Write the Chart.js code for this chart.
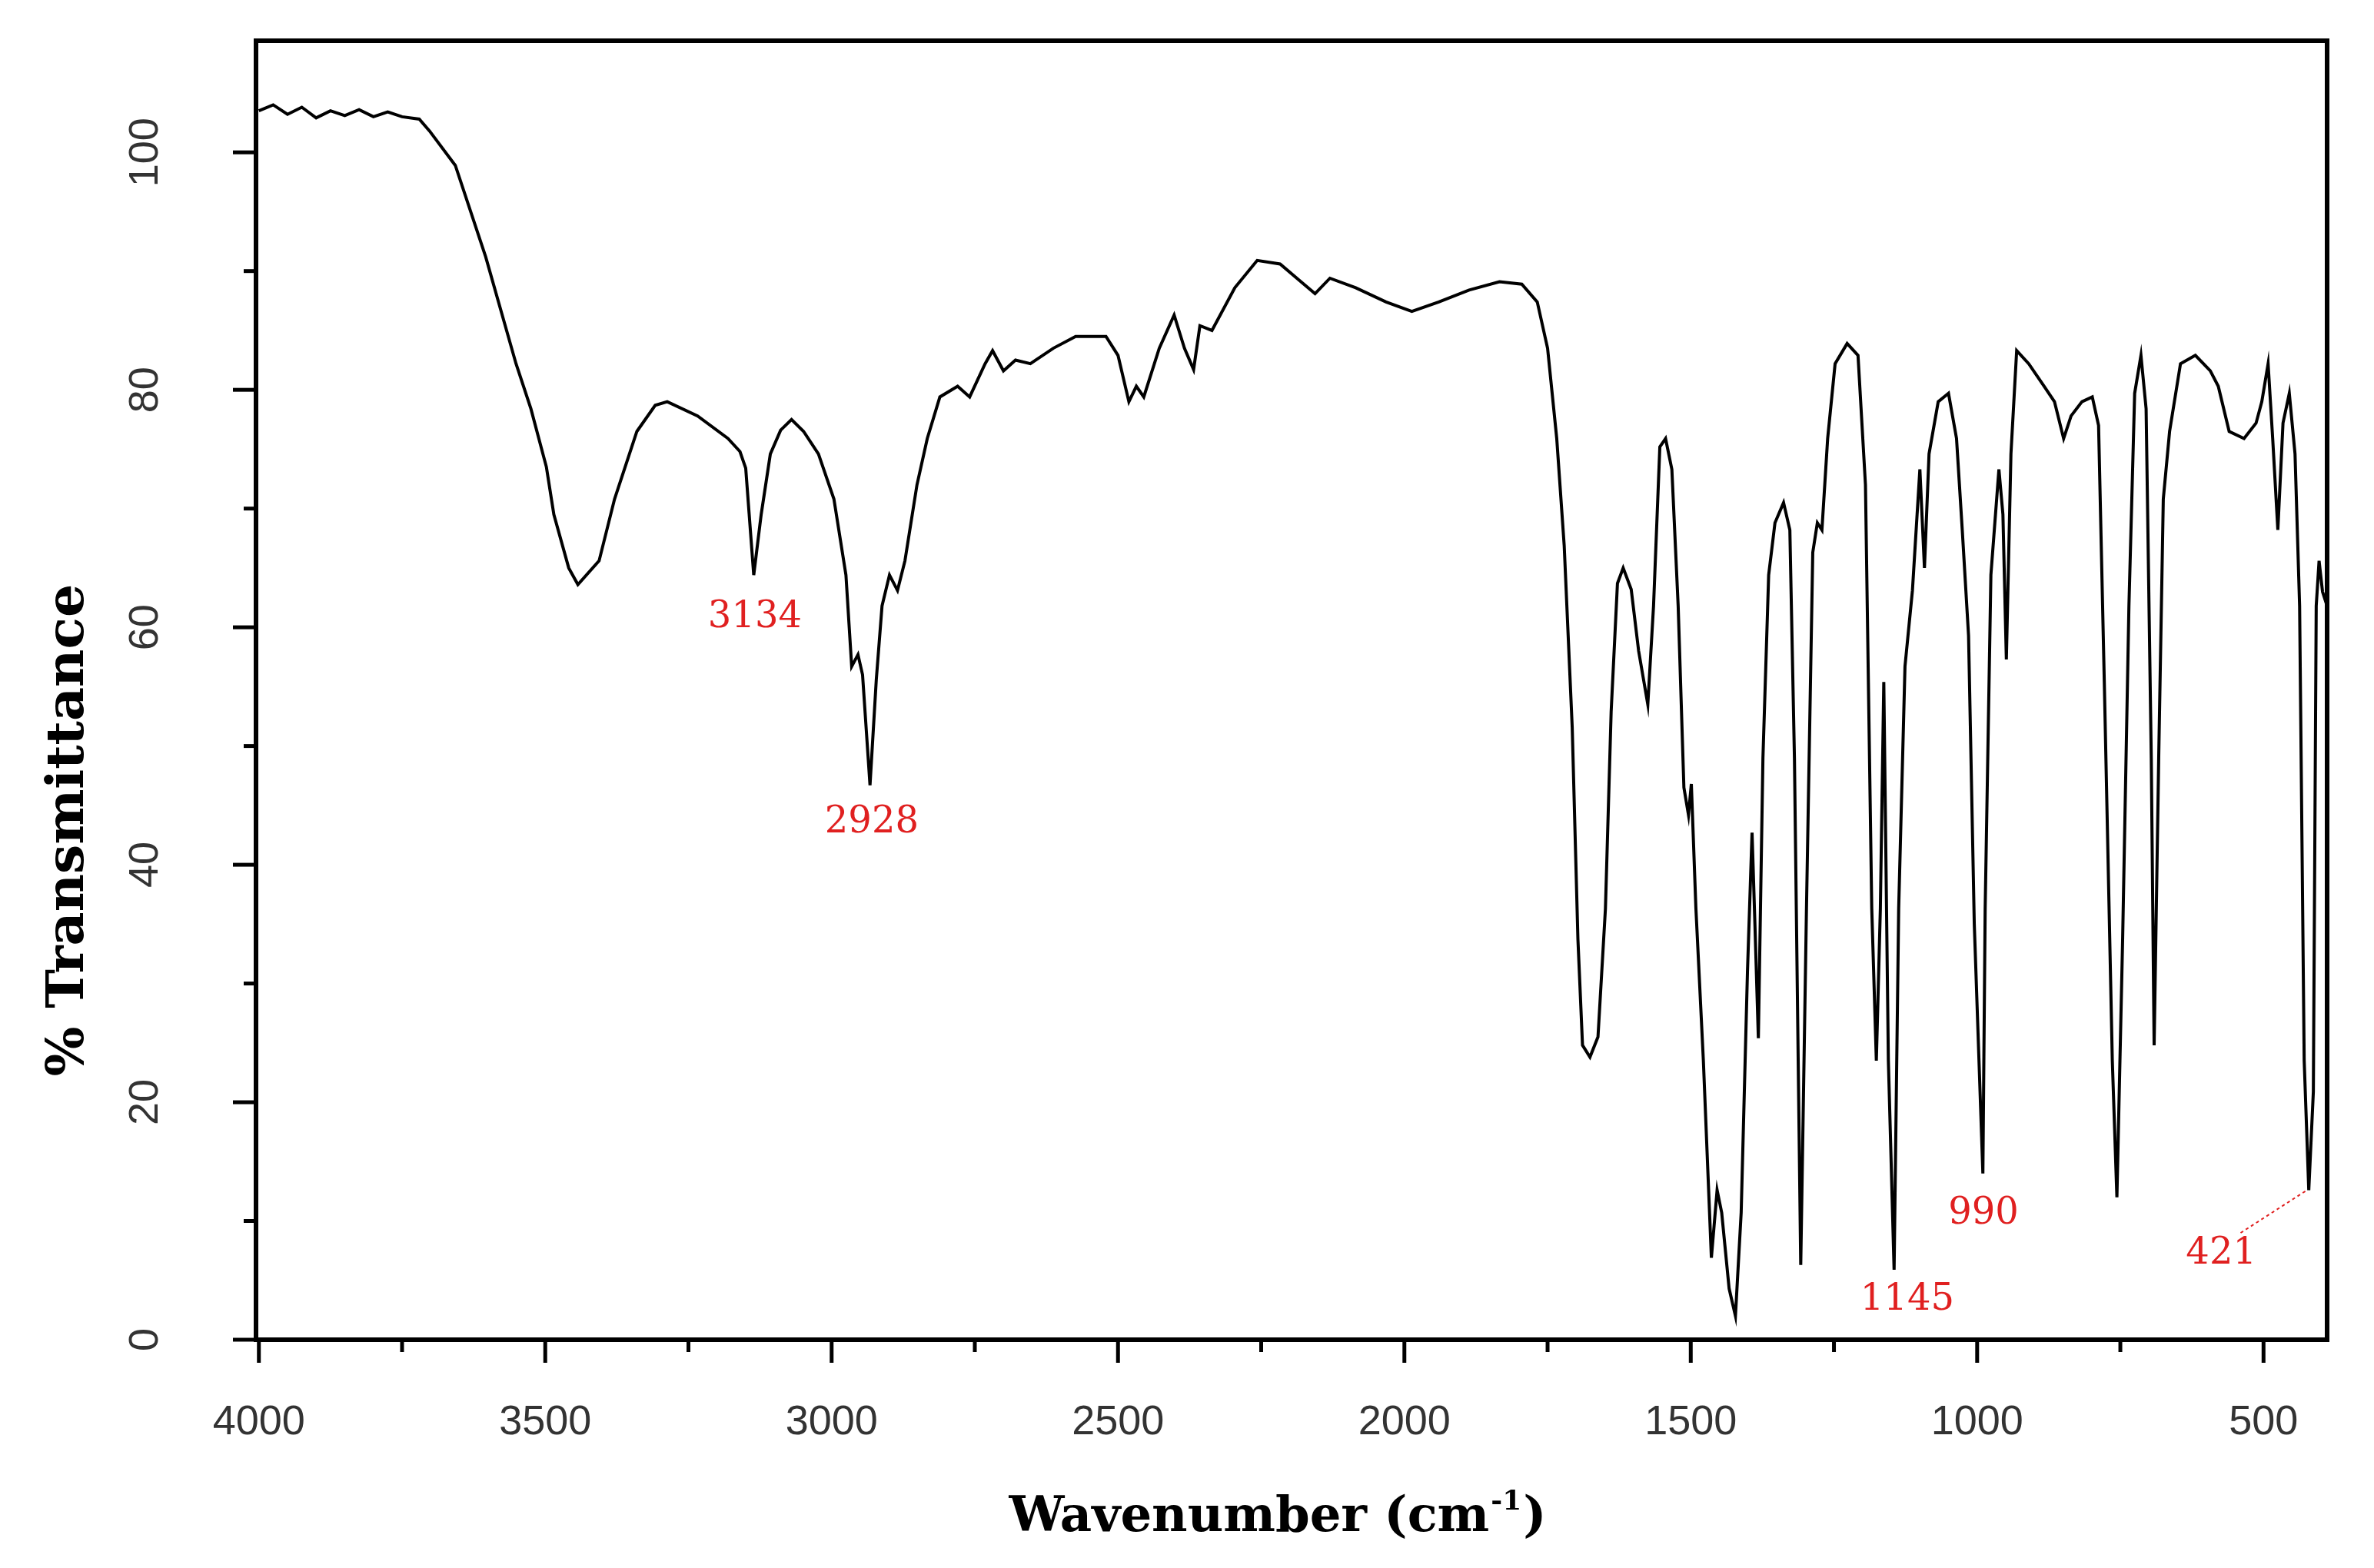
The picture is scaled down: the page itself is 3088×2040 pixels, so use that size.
<!DOCTYPE html>
<html><head><meta charset="utf-8">
<script src="https://cdn.jsdelivr.net/npm/chart.js@4/dist/chart.umd.min.js"></script>
<style>html,body{margin:0;padding:0;background:#fff}#w{width:3088px;height:2040px}</style>
</head><body><div id="w"><canvas id="c"></canvas></div>
<script>
const wavenumbers = [4000,3975,3950,3925,3900,3875,3850,3825,3800,3775,3750,3720,3702,3657,3604,3551,3525,3498,3485,3459,3443,3406,3379,3340,3308,3287,3234,3181,3160,3150,3136,3123,3107,3089,3070,3049,3023,2996,2975,2965,2954,2946,2933,2922,2912,2899,2885,2872,2851,2833,2811,2780,2759,2732,2719,2700,2679,2653,2613,2574,2521,2500,2481,2468,2455,2428,2402,2384,2368,2357,2336,2296,2257,2217,2183,2156,2130,2085,2032,1987,1940,1887,1834,1795,1768,1750,1734,1721,1707,1697,1689,1676,1662,1649,1639,1628,1618,1604,1591,1575,1565,1554,1544,1533,1522,1512,1504,1499,1491,1478,1464,1454,1446,1433,1422,1412,1401,1393,1388,1382,1374,1364,1353,1338,1327,1319,1308,1298,1287,1279,1271,1261,1248,1227,1208,1195,1184,1176,1169,1163,1155,1145,1137,1126,1113,1100,1092,1084,1068,1050,1036,1026,1015,1005,990,986,976,962,955,949,941,931,910,883,865,849,836,817,799,788,778,764,756,746,735,725,714,705,696,691,683,675,664,645,619,593,579,560,534,513,503,492,484,475,466,455,445,437,429,421,413,408,403,397,389];
const transmittance = [103.5,104,103.2,103.8,102.9,103.5,103.1,103.6,103,103.4,103,102.8,101.8,98.9,91.2,82.2,78.4,73.5,69.5,65,63.6,65.6,70.8,76.5,78.7,79,77.8,75.9,74.8,73.4,64.4,69.5,74.6,76.6,77.5,76.5,74.6,70.8,64.4,56.7,57.7,56,46.7,55.6,61.8,64.4,63.1,65.6,72,75.9,79.4,80.3,79.4,82.2,83.3,81.6,82.5,82.2,83.5,84.5,84.5,82.9,79,80.3,79.4,83.5,86.3,83.5,81.7,85.4,85,88.6,90.9,90.6,89.2,88.1,89.4,88.6,87.4,86.6,87.4,88.4,89.1,88.9,87.4,83.5,75.9,66.9,51.6,33.7,24.8,23.8,25.5,36.3,52.9,63.7,65,63.2,58,53.5,61.8,75.2,75.9,73.3,61.8,46.5,44.2,46.8,36.3,23.5,6.9,12.6,10.7,4.3,2,10.7,31,42.7,35,25.4,49,64.4,68.8,70.5,68.2,49,6.3,36.3,66.3,68.8,68.2,75.9,82.2,83.9,82.9,72,36.3,23.5,36.3,55.4,23.5,5.9,36.3,56.7,63.1,73.3,65,74.6,79,79.7,75.9,68.2,59.3,35,14,36.3,64.4,73.3,69.5,57.3,74.6,83.3,82.2,80.3,79,75.9,77.8,79,79.4,77,55.4,23.5,12,33.7,61.8,79.7,82.9,78.4,49,24.8,49,70.8,76.5,82.2,82.9,81.6,80.3,76.5,75.9,77.2,79,82.2,75.9,68.2,77.2,79.7,74.6,61.8,23.5,12.6,20.9,61.8,65.6,63,61.8];
const xTickLabels = [4000,3500,3000,2500,2000,1500,1000,500];
const xMinorTicks = [3750,3250,2750,2250,1750,1250,750];
const yTickLabels = [0,20,40,60,80,100];
const yMinorTicks = [10,30,50,70,90];
const peakLabels = ['3134','2928','1145','990','421'];
const peakLabelX = [3134,2930,1122,989,574];
const peakLabelY = [60.8,43.5,3.3,10.6,7.2];

const deco = {
  id:'deco',
  afterDraw(ch){
    const c=ch.ctx, a=ch.chartArea, xs=ch.scales.x, ys=ch.scales.y;
    c.save();
    c.strokeStyle='#000'; c.lineWidth=6;
    c.strokeRect(a.left,a.top,a.right-a.left,a.bottom-a.top);
    c.lineWidth=5;
    xTickLabels.forEach(v=>{const p=xs.getPixelForValue(v);c.beginPath();c.moveTo(p,a.bottom);c.lineTo(p,a.bottom+30);c.stroke();});
    xMinorTicks.forEach(v=>{const p=xs.getPixelForValue(v);c.beginPath();c.moveTo(p,a.bottom);c.lineTo(p,a.bottom+16);c.stroke();});
    yTickLabels.forEach(v=>{const p=ys.getPixelForValue(v);c.beginPath();c.moveTo(a.left,p);c.lineTo(a.left-30,p);c.stroke();});
    yMinorTicks.forEach(v=>{const p=ys.getPixelForValue(v);c.beginPath();c.moveTo(a.left,p);c.lineTo(a.left-16,p);c.stroke();});
    c.fillStyle='#333'; c.font='54px "Liberation Sans", Arial';
    c.textAlign='center'; c.textBaseline='middle';
    xTickLabels.forEach(v=>c.fillText(String(v),xs.getPixelForValue(v),1851));
    yTickLabels.forEach(v=>{c.save();c.translate(190,ys.getPixelForValue(v));c.rotate(-Math.PI/2);c.fillText(String(v),0,0);c.restore();});
    c.fillStyle='#000';
    // x title with small superscript
    const big='bold 64px "DejaVu Serif", serif', sm='bold 36px "DejaVu Serif", serif';
    const p1='Wavenumber (cm', p2='-1', p3=')';
    c.font=big; const w1=c.measureText(p1).width, w3=c.measureText(p3).width;
    c.font=sm; const w2=c.measureText(p2).width;
    let x0=1660-(w1+w2+w3)/2; c.textAlign='left';
    c.font=big; c.fillText(p1,x0,1975);
    c.font=sm; c.fillText(p2,x0+w1+2,1955);
    c.font=big; c.fillText(p3,x0+w1+w2+4,1975);
    c.textAlign='center';
    c.font='bold 68px "DejaVu Serif", serif';
    c.save();c.translate(90,1080);c.rotate(-Math.PI/2);c.fillText('% Transmittance',0,0);c.restore();
    c.fillStyle='#e02020'; c.font='48px "DejaVu Serif", serif';
    peakLabels.forEach((t,i)=>c.fillText(t,xs.getPixelForValue(peakLabelX[i]),ys.getPixelForValue(peakLabelY[i])));
    c.strokeStyle='#e02020'; c.lineWidth=2; c.setLineDash([4,4]);
    c.beginPath(); c.moveTo(xs.getPixelForValue(540),ys.getPixelForValue(9)); c.lineTo(xs.getPixelForValue(424),ys.getPixelForValue(12.6)); c.stroke();
    c.restore();
  }
};

new Chart(document.getElementById('c'),{
  type:'line',
  data:{datasets:[{data:wavenumbers.map((w,i)=>({x:w,y:transmittance[i]})),borderColor:'#000',borderWidth:4,pointRadius:0,tension:0,fill:false}]},
  options:{
    responsive:true,maintainAspectRatio:false,animation:false,
    layout:{padding:{top:53,right:61,left:0,bottom:0}},
    plugins:{legend:{display:false},tooltip:{enabled:false}},
    scales:{
      x:{type:'linear',reverse:true,min:389,max:4005,grid:{display:false},border:{display:false},
         ticks:{display:false},afterFit(s){s.height=297;}},
      y:{min:0,max:109.4,grid:{display:false},border:{display:false},
         ticks:{display:false},afterFit(s){s.width=333;}}
    }
  },
  plugins:[deco]
});
</script></body></html>
